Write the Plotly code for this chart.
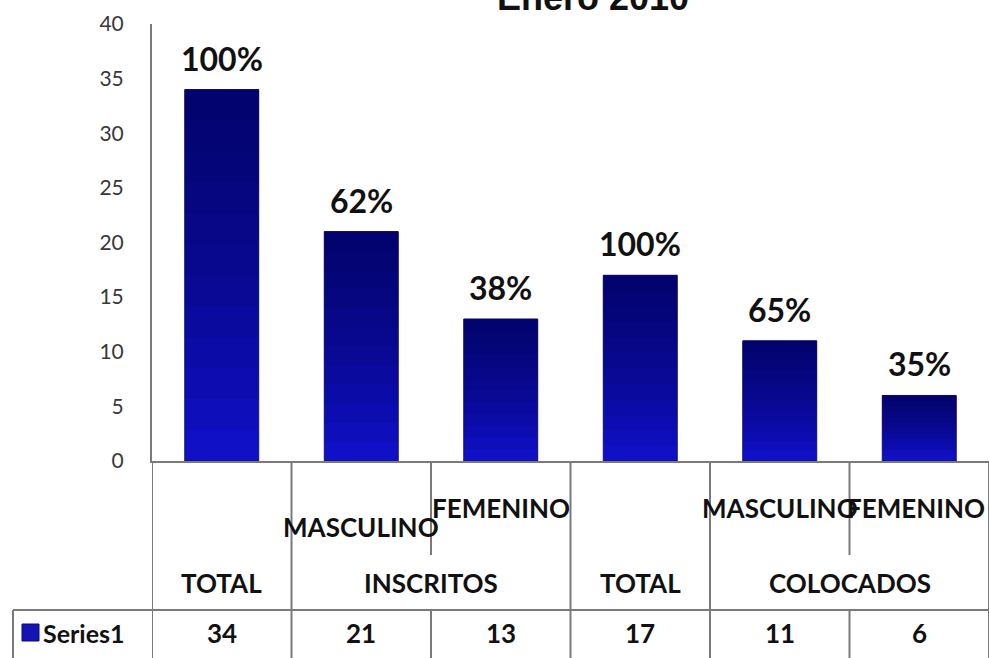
import plotly.graph_objects as go

# ---- data ----
level1 = ["TOTAL", "MASCULINO", "FEMENINO", "TOTAL", "MASCULINO", "FEMENINO"]
groups = ["INSCRITOS", "COLOCADOS"]
values = [34, 21, 13, 17, 11, 6]
percents = ["100%", "62%", "38%", "100%", "65%", "35%"]
series_name = "Series1"
title = "Enero 2010"
yticks = [0, 5, 10, 15, 20, 25, 30, 35, 40]

xs = list(range(len(values)))
BAR_W = 0.53
FONT = "Lato, Open Sans, sans-serif"

fig = go.Figure()
fig.add_trace(go.Bar(x=xs, y=values, width=BAR_W, marker=dict(color="#1212d2", line=dict(color="#15157a", width=1)),
                     showlegend=False, hoverinfo="skip"))
# gradient overlay (darker toward the top)
N = 12
for k in range(1, N + 1):
    fig.add_trace(go.Bar(x=xs, y=[v * (1 - k / N) + v / N for v in values], base=[v * (k - 1) / N for v in values],
                         width=BAR_W, marker=dict(color="rgba(4,4,50,0.075)", line=dict(width=0)),
                         showlegend=False, hoverinfo="skip"))

# percentage labels
for x, v, p in zip(xs, values, percents):
    fig.add_annotation(x=x, y=v, text=f"<b>{p}</b>", showarrow=False, yanchor="bottom", yshift=10,
                       font=dict(size=32, color="#111", family=FONT))

# title (mostly cut off at top, as in the original)
fig.add_annotation(x=(593 - 152) / 837, xref="paper", xanchor="center", y=1, yref="paper", text=f"<b>{title}</b>",
                   showarrow=False, yanchor="middle", yshift=27,
                   font=dict(size=36, color="#111", family="Liberation Sans, Arial"))

PLOT_TOP, PLOT_BOT = 24, 461
H = PLOT_BOT - PLOT_TOP
def py(pix):
    return (PLOT_BOT - pix) / H

LINE = dict(color="#7a7a7a", width=2)
# table lines
full_lines = [-0.5, 0.5, 2.5, 3.5, 5.5]
for xv in full_lines:
    fig.add_shape(type="line", xref="x", yref="paper", x0=xv, x1=xv, y0=0, y1=py(660), line=LINE)
for xv in [1.5, 4.5]:
    fig.add_shape(type="line", xref="x", yref="paper", x0=xv, x1=xv, y0=0, y1=py(555), line=LINE)
    fig.add_shape(type="line", xref="x", yref="paper", x0=xv, x1=xv, y0=py(610), y1=py(660), line=LINE)
# row separator
fig.add_shape(type="line", xref="paper", yref="paper", x0=(13 - 152) / 837, x1=1, y0=py(610), y1=py(610), line=LINE)
fig.add_shape(type="line", xref="paper", yref="paper", x0=(13 - 152) / 837, x1=(13 - 152) / 837,
              y0=py(610), y1=py(660), line=LINE)

TXT = dict(size=26, color="#111", family=FONT)
upper_y = [None, 527, 508, None, 508, 508]
x_nudge = [0, 0, 0, 0, 0, -0.02]
for x, lab, uy, dx in zip(xs, level1, upper_y, x_nudge):
    yy = 583 if uy is None else uy
    fig.add_annotation(x=x + dx, y=py(yy), yref="paper", text=f"<b>{lab}</b>", showarrow=False,
                       xanchor="center", yanchor="middle", font=TXT)
for gx, g in zip([1.5, 4.5], groups):
    fig.add_annotation(x=gx, y=py(583), yref="paper", text=f"<b>{g}</b>", showarrow=False,
                       xanchor="center", yanchor="middle", font=TXT)
for x, v in zip(xs, values):
    fig.add_annotation(x=x, y=py(633), yref="paper", text=f"<b>{v}</b>", showarrow=False,
                       xanchor="center", yanchor="middle", font=TXT)
# legend key
fig.add_shape(type="rect", xref="paper", yref="paper", x0=(22 - 152) / 837, x1=(39 - 152) / 837,
              y0=py(641), y1=py(624), fillcolor="#1414b4", line=dict(color="#0a0a80", width=1))
fig.add_annotation(x=(41 - 152) / 837, xref="paper", xanchor="left", y=py(633), yref="paper", yanchor="middle",
                   text=f"<b>{series_name}</b>", showarrow=False, font=dict(size=25, color="#111", family=FONT))

fig.update_layout(
    barmode="overlay", width=989, height=658, paper_bgcolor="white", plot_bgcolor="white",
    margin=dict(l=152, r=0, t=PLOT_TOP, b=658 - PLOT_BOT), showlegend=False,
    xaxis=dict(range=[-0.5, 5.5], showticklabels=False, showgrid=False, zeroline=False,
               showline=True, linecolor="#7a7a7a", linewidth=2, fixedrange=True),
    yaxis=dict(range=[0, 40], tickvals=yticks, showgrid=False, zeroline=False, showline=True,
               linecolor="#7a7a7a", linewidth=2, ticks="", ticklabelstandoff=22,
               tickfont=dict(size=21, color="#383838", family=FONT)),
)
fig.write_html("out.html", config={"displayModeBar": False}, post_script="document.body.style.margin='0';")
